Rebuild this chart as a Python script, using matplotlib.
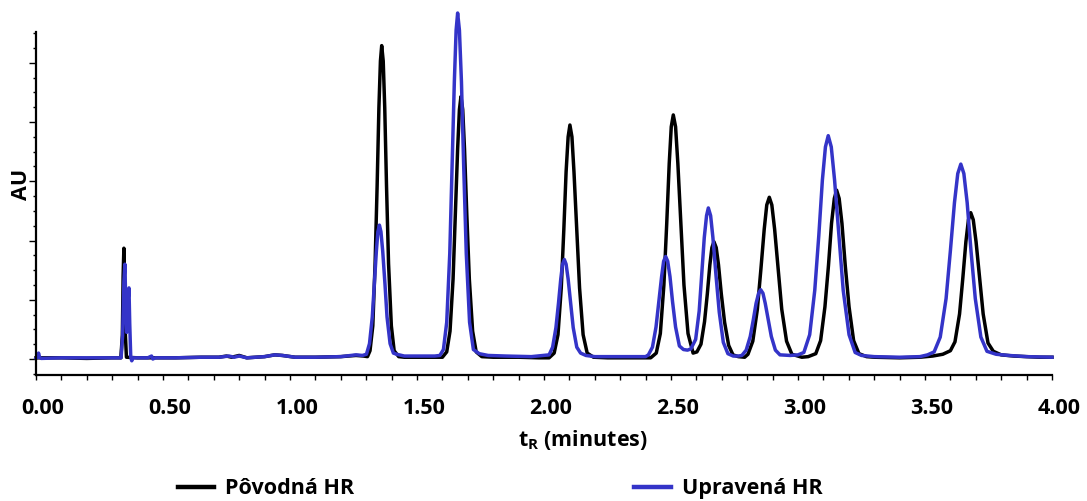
#!/usr/bin/env python3
"""
Chromatogram comparison: original vs modified HR method
"""

import matplotlib
matplotlib.use('Agg')
import matplotlib.pyplot as plt
from matplotlib.ticker import MultipleLocator, NullFormatter
from matplotlib.transforms import ScaledTranslation

# retention time (min) / absorbance (AU)
black_t = [
    0.000, 0.100, 0.200, 0.300, 0.334,
    0.340, 0.343, 0.346, 0.349, 0.352, 0.356,
    0.400, 0.460, 0.550, 0.650, 0.720, 0.750, 0.770, 0.800, 0.830, 0.900,
    0.940, 0.970, 1.020, 1.100, 1.200, 1.260, 1.290,
    1.305, 1.315, 1.326, 1.335, 1.343, 1.350, 1.356, 1.361, 1.367, 1.373,
    1.380, 1.388, 1.399, 1.410, 1.428,
    1.450, 1.550, 1.600,
    1.617, 1.630, 1.642, 1.651, 1.660, 1.667, 1.673, 1.680, 1.687, 1.696,
    1.706, 1.719, 1.733, 1.755,
    1.800, 1.900, 1.980, 2.020,
    2.040, 2.055, 2.068, 2.078, 2.087, 2.095, 2.102, 2.110, 2.118, 2.129,
    2.140, 2.154, 2.170, 2.195,
    2.250, 2.330, 2.420,
    2.442, 2.458, 2.472, 2.483, 2.493, 2.501, 2.509, 2.518, 2.527, 2.539,
    2.551, 2.567, 2.587,
    2.602, 2.618, 2.632, 2.643, 2.653, 2.661, 2.669, 2.678, 2.687, 2.698,
    2.711, 2.727, 2.744, 2.765, 2.790,
    2.803, 2.822, 2.840, 2.854, 2.867, 2.877, 2.887, 2.897, 2.908, 2.922,
    2.936, 2.955, 2.976, 3.015, 3.040,
    3.070, 3.089, 3.106, 3.120, 3.132, 3.143, 3.152, 3.162, 3.173, 3.186,
    3.201, 3.219, 3.240, 3.270,
    3.300, 3.400, 3.480, 3.530, 3.570,
    3.600, 3.618, 3.636, 3.649, 3.661, 3.671, 3.680, 3.690, 3.701, 3.715,
    3.729, 3.748, 3.769, 3.800, 3.850, 3.950, 4.000,
]
black_au = [
    0.02, 0.02, 0.01, 0.02, 0.02,
    0.40, 1.40, 1.87, 1.30, 0.40, 0.03,
    0.02, 0.02, 0.02, 0.03, 0.03, 0.05, 0.03, 0.06, 0.02, 0.04,
    0.07, 0.06, 0.03, 0.03, 0.04, 0.06, 0.05,
    0.04, 0.14, 0.56, 1.61, 2.92, 4.24, 5.03, 5.29, 5.03, 4.24,
    2.92, 1.61, 0.56, 0.14, 0.04,
    0.03, 0.03, 0.03,
    0.12, 0.47, 1.35, 2.45, 3.55, 4.21, 4.43, 4.21, 3.55, 2.45,
    1.35, 0.47, 0.12, 0.04,
    0.03, 0.03, 0.02, 0.02,
    0.10, 0.41, 1.20, 2.18, 3.16, 3.75, 3.95, 3.75, 3.16, 2.18,
    1.20, 0.41, 0.10, 0.03,
    0.02, 0.02, 0.02,
    0.10, 0.43, 1.25, 2.27, 3.30, 3.92, 4.12, 3.92, 3.30, 2.27,
    1.25, 0.43, 0.10,
    0.12, 0.25, 0.63, 1.10, 1.59, 1.88, 1.98, 1.88, 1.59, 1.10,
    0.62, 0.23, 0.07, 0.04, 0.03,
    0.08, 0.30, 0.84, 1.52, 2.19, 2.60, 2.73, 2.60, 2.19, 1.52,
    0.84, 0.30, 0.08, 0.03, 0.04,
    0.09, 0.31, 0.88, 1.58, 2.29, 2.71, 2.85, 2.71, 2.29, 1.58,
    0.88, 0.31, 0.09, 0.04,
    0.03, 0.02, 0.03, 0.05, 0.08,
    0.14, 0.29, 0.76, 1.37, 1.98, 2.35, 2.47, 2.35, 1.98, 1.37,
    0.76, 0.27, 0.13, 0.07, 0.05, 0.03, 0.03,
]

blue_t = [
    0.000, 0.006, 0.010, 0.014, 0.020, 0.100, 0.200, 0.300, 0.335,
    0.341, 0.346, 0.350, 0.354, 0.357, 0.361, 0.366, 0.369, 0.373, 0.377, 0.382,
    0.440, 0.455, 0.460, 0.470, 0.550, 0.650, 0.720, 0.760, 0.780, 0.800,
    0.830, 0.900, 0.940, 0.970, 1.020, 1.100, 1.200, 1.260, 1.285,
    1.301, 1.313, 1.324, 1.332, 1.340, 1.346, 1.352, 1.358, 1.365, 1.374,
    1.382, 1.394, 1.407, 1.420, 1.450, 1.500, 1.570,
    1.590, 1.604, 1.617, 1.629, 1.638, 1.647, 1.654, 1.660, 1.667, 1.675,
    1.684, 1.694, 1.707, 1.722, 1.745, 1.780, 1.850, 1.950,
    2.020, 2.034, 2.047, 2.057, 2.066, 2.073, 2.080, 2.087, 2.095, 2.105,
    2.115, 2.129, 2.144, 2.165, 2.200, 2.300,
    2.400, 2.411, 2.427, 2.441, 2.452, 2.463, 2.471, 2.479, 2.487, 2.496,
    2.506, 2.518, 2.533, 2.549, 2.565, 2.578,
    2.597, 2.611, 2.621, 2.631, 2.640, 2.647, 2.656, 2.665, 2.677, 2.690,
    2.706, 2.724, 2.745, 2.765,
    2.779, 2.796, 2.812, 2.824, 2.835, 2.845, 2.853, 2.862, 2.871, 2.883,
    2.895, 2.911, 2.929, 2.969, 3.000,
    3.023, 3.046, 3.066, 3.082, 3.096, 3.108, 3.119, 3.131, 3.144, 3.161,
    3.178, 3.201, 3.225, 3.250, 3.300,
    3.400, 3.480, 3.510, 3.536, 3.560, 3.583, 3.600, 3.616, 3.629, 3.641,
    3.653, 3.666, 3.681, 3.698, 3.720, 3.744, 3.780, 3.830, 3.900, 4.000,
]
blue_au = [
    0.01, 0.03, 0.10, 0.03, 0.01, 0.02, 0.02, 0.02, 0.02,
    0.40, 1.30, 1.60, 0.80, 0.45, 0.90, 1.20, 0.60, 0.03, -0.03, 0.02,
    0.02, 0.05, 0.00, 0.02, 0.02, 0.03, 0.03, 0.05, 0.03, 0.05,
    0.02, 0.04, 0.07, 0.06, 0.03, 0.03, 0.04, 0.07, 0.06,
    0.08, 0.26, 0.71, 1.26, 1.82, 2.15, 2.26, 2.15, 1.82, 1.26,
    0.71, 0.26, 0.10, 0.08, 0.05, 0.05, 0.05,
    0.06, 0.16, 0.62, 1.78, 3.23, 4.68, 5.55, 5.84, 5.55, 4.68,
    3.23, 1.78, 0.62, 0.16, 0.09, 0.06, 0.05, 0.04,
    0.07, 0.20, 0.53, 0.94, 1.35, 1.60, 1.68, 1.60, 1.35, 0.94,
    0.53, 0.20, 0.10, 0.06, 0.04, 0.04,
    0.04, 0.07, 0.20, 0.54, 0.97, 1.39, 1.65, 1.73, 1.65, 1.39,
    0.97, 0.54, 0.22, 0.16, 0.15, 0.17,
    0.33, 0.81, 1.42, 2.05, 2.42, 2.55, 2.42, 2.05, 1.42, 0.79,
    0.28, 0.09, 0.05, 0.05,
    0.06, 0.15, 0.38, 0.66, 0.94, 1.11, 1.17, 1.11, 0.94, 0.66,
    0.38, 0.15, 0.07, 0.06, 0.07,
    0.11, 0.41, 1.16, 2.09, 3.02, 3.58, 3.77, 3.58, 3.02, 2.09,
    1.16, 0.41, 0.11, 0.06, 0.04,
    0.03, 0.04, 0.07, 0.12, 0.37, 1.02, 1.83, 2.64, 3.13, 3.29,
    3.13, 2.64, 1.83, 1.02, 0.37, 0.13, 0.08, 0.06, 0.04, 0.03,
]

series_labels = ['Pôvodná HR', 'Upravená HR']
x_ticks = [0.0, 0.5, 1.0, 1.5, 2.0, 2.5, 3.0, 3.5, 4.0]

plt.rcParams['font.family'] = ['Open Sans', 'DejaVu Sans']
plt.rcParams['font.weight'] = 'bold'
plt.rcParams['mathtext.fontset'] = 'custom'
plt.rcParams['mathtext.rm'] = 'Open Sans:bold'
plt.rcParams['mathtext.it'] = 'Open Sans:bold'
plt.rcParams['mathtext.bf'] = 'Open Sans:bold'

fs = 15.5
blue = '#3434c8'

fig = plt.figure(figsize=(10.87, 5.01), dpi=100)
ax = fig.add_axes([36 / 1087, 126 / 501, 1016 / 1087, 343 / 501])

ax.plot(black_t, black_au, color='black', linewidth=2.5, label=series_labels[0],
        clip_on=False, solid_joinstyle='round')
ax.plot(blue_t, blue_au, color=blue, linewidth=2.5, label=series_labels[1],
        clip_on=False, solid_joinstyle='round')

ax.set_xlim(0, 4)
ax.set_ylim(-0.27, 5.52)

for side in ['top', 'right']:
    ax.spines[side].set_visible(False)
for side in ['left', 'bottom']:
    ax.spines[side].set_linewidth(1.6)

# x axis: labelled every 0.5 min, ticks every 0.1 min
ax.set_xticks(x_ticks)
ax.set_xticklabels([f'{v:.2f}' for v in x_ticks], fontsize=fs, fontweight='bold')
ax.xaxis.set_minor_locator(MultipleLocator(0.1))
ax.tick_params(axis='x', which='both', direction='out', length=3.5, width=1.0, pad=13)

# y axis: no labels, major + minor ticks
ax.yaxis.set_major_locator(MultipleLocator(1))
ax.yaxis.set_minor_locator(MultipleLocator(0.25))
ax.yaxis.set_major_formatter(NullFormatter())
ax.tick_params(axis='y', which='major', direction='out', length=5, width=1.0)
ax.tick_params(axis='y', which='minor', direction='out', length=2.5, width=1.0)

# labels sit a little to the right of their ticks in the original
shift = ScaledTranslation(0.07, 0, fig.dpi_scale_trans)
for tick in ax.xaxis.get_major_ticks():
    tick.label1.set_transform(tick.label1.get_transform() + shift)

ax.set_ylabel('AU', fontsize=fs, fontweight='bold')
ax.yaxis.set_label_coords(-0.004, 0.555)
ax.set_xlabel(r'$t_R$ (minutes)', fontsize=fs, fontweight='bold')
ax.xaxis.set_label_coords(0.538, -0.155)

leg = ax.legend(loc='center', bbox_to_anchor=(0.46, 0.024), bbox_transform=fig.transFigure,
                ncol=2, frameon=False, fontsize=fs, handlelength=1.7,
                handletextpad=0.5, columnspacing=13.0)
for line in leg.get_lines():
    line.set_linewidth(3.2)

fig.savefig('out.png', dpi=100)
